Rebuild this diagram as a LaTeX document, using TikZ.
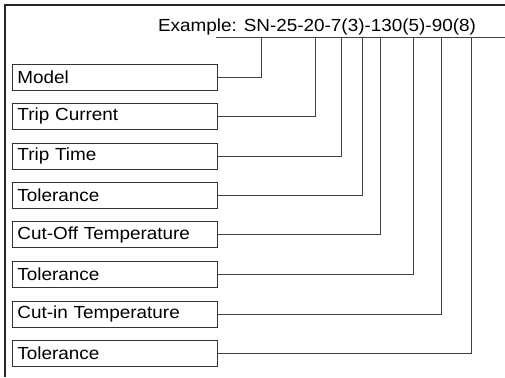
\documentclass[tikz,border=0pt]{standalone}
\usepackage{fontspec}
\setmainfont{Liberation Sans}[FakeStretch=1.08]
\begin{document}
\begin{tikzpicture}[x=1pt,y=-1pt,
  frame/.style={draw=black!85, line width=1.2pt},
  conn/.style={draw=black!75, line width=0.9pt},
  lbox/.style={draw=black!80, line width=0.9pt, anchor=west, text width=195pt, align=left,
    inner xsep=5pt, inner ysep=0pt, minimum height=26pt, font=\fontsize{17.5}{20}\selectfont},
  ex/.style={anchor=base, inner sep=0pt, font=\fontsize{17.5}{20}\selectfont}]
\useasboundingbox (0,0) rectangle (505,377);
\fill[white] (0,0) rectangle (505,377);
\draw[frame] (5,377) -- (5,5) -- (505,5);
\node[ex] (ex) at (317,32) {Example: SN-25-20-7(3)-130(5)-90(8)};
\coordinate (ls) at (216,37);
\coordinate (le) at (505,37);
\draw[conn] (ls) -- (le);
\node[lbox] (b1) at (12,77) {Model};
\node[lbox] (b2) at (12,116) {Trip Current};
\node[lbox] (b3) at (12,156) {Trip Time};
\node[lbox] (b4) at (12,195.5) {Tolerance};
\node[lbox] (b5) at (12,234.5) {Cut-Off Temperature};
\node[lbox] (b6) at (12,274) {Tolerance};
\node[lbox] (b7) at (12,314) {Cut-in Temperature};
\node[lbox] (b8) at (12,353) {Tolerance};
\coordinate (t1) at (261,37);
\coordinate (t2) at (315,37);
\coordinate (t3) at (341,37);
\coordinate (t4) at (362.5,37);
\coordinate (t5) at (380,37);
\coordinate (t6) at (413,37);
\coordinate (t7) at (441.5,37);
\coordinate (t8) at (471,37);
\foreach \i in {1,...,8} \draw[conn] (b\i.east) -| (t\i);
\end{tikzpicture}
\end{document}
